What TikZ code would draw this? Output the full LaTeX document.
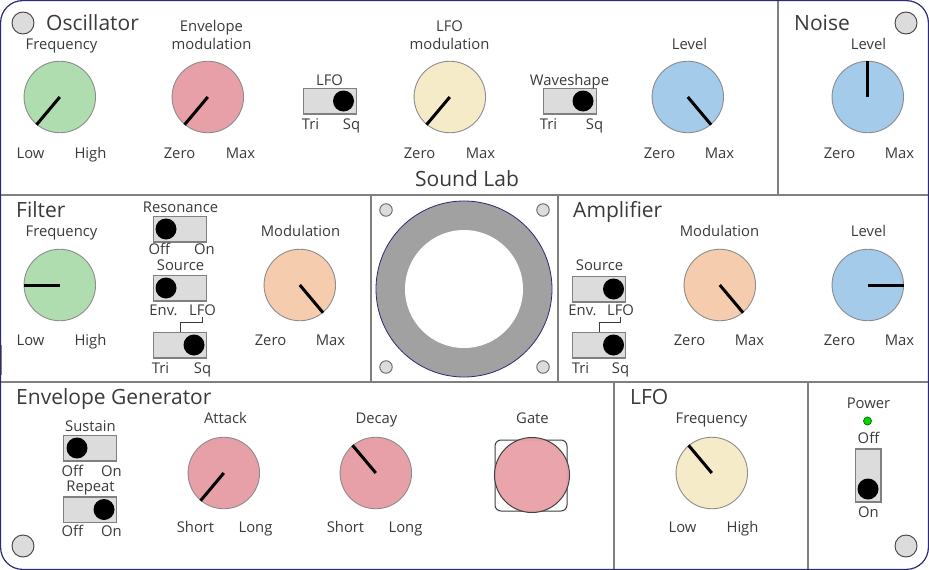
\documentclass[tikz,border=0pt]{standalone}
\usepackage{fontspec}
\setmainfont{Open Sans}
\definecolor{panel}{HTML}{808080}
\definecolor{navy}{HTML}{2A2A78}
\definecolor{ink}{HTML}{3A3A3A}
\definecolor{swfill}{HTML}{DCDCDC}
\definecolor{kgreen}{HTML}{B0DDB0}
\definecolor{kpink}{HTML}{E8A0A8}
\definecolor{kcream}{HTML}{F5EBC8}
\definecolor{kblue}{HTML}{A5CBEB}
\definecolor{kpeach}{HTML}{F5CDAE}
\tikzset{
  x=1pt,y=-1pt,
  lab/.style={inner sep=0pt,xshift=.5pt,yshift=-2pt,text=ink,font=\fontsize{14.8}{16}\selectfont,text height=10.6pt,text depth=3pt},
  ttl/.style={inner sep=0pt,yshift=-2pt,anchor=west,text=ink,font=\fontsize{21}{23}\selectfont,text height=15pt,text depth=4pt},
  knobc/.style={circle,draw=black!45,line width=.9pt,minimum size=71.5pt,inner sep=0pt},
  ptr/.style={line width=3pt,draw=black},
  swbox/.style={rectangle,draw=panel,line width=1.5pt,fill=swfill,inner sep=0pt},
  swdot/.style={circle,fill=black,minimum size=21pt,inner sep=0pt},
  screw/.style={circle,draw=black!75,fill=swfill,line width=.9pt,inner sep=0pt},
  divider/.style={draw=panel,line width=1.6pt},
}
\newcommand\knobat[5]{% name x y colour angle
  \node[knobc,fill=#4] (#1) at (#2,#3) {};
  \draw[ptr] (#1.center) -- (#1.#5);
}
\newcommand\hsw[4]{% name x y dotx -- box centre
  \node[swbox,minimum width=53pt,minimum height=25.5pt] (#1) at (#2,#3) {};
  \node[swdot] (#1d) at (#4,#3) {};
}
\newcommand\lbl[4]{\node[lab] (#1) at (#2,#3) {#4};}
\begin{document}
\begin{tikzpicture}
\useasboundingbox (0,0) rectangle (929,570);
\fill[white] (0,0) rectangle (929,570);
% panel dividers
\coordinate (hAl) at (0,195); \coordinate (hAr) at (929,195);
\coordinate (hBl) at (0,382); \coordinate (hBr) at (929,382);
\draw[divider] (hAl) -- (hAr);
\draw[divider] (hBl) -- (hBr);
\coordinate (v1a) at (778,0); \coordinate (v1b) at (778,195);
\coordinate (v2a) at (371,195); \coordinate (v2b) at (371,382);
\coordinate (v3a) at (558,195); \coordinate (v3b) at (558,382);
\coordinate (v4a) at (614,382); \coordinate (v4b) at (614,570);
\coordinate (v5a) at (808,382); \coordinate (v5b) at (808,570);
\draw[divider] (v1a) -- (v1b);
\draw[divider] (v2a) -- (v2b);
\draw[divider] (v3a) -- (v3b);
\draw[divider] (v4a) -- (v4b);
\draw[divider] (v5a) -- (v5b);
% border
\draw[navy,line width=1.2pt,rounded corners=22pt] (.6,.6) rectangle (928.4,569.4);
\draw[panel,line width=1pt] (1,345) -- (1,375);
% screws
\node[screw,minimum size=22pt] (s1) at (23,23) {};
\node[screw,minimum size=22pt] (s2) at (906,23) {};
\node[screw,minimum size=22pt] (s3) at (23,546) {};
\node[screw,minimum size=22pt] (s4) at (906,546) {};
% speaker
\node[circle,draw=navy,line width=.8pt,fill=black!37,minimum size=176pt,inner sep=0pt] (spk) at (464,289) {};
\node[circle,fill=white,minimum size=118pt,inner sep=0pt] (spki) at (464,289) {};
\node[screw,minimum size=12.5pt,draw=black!60] (m1) at (386,210) {};
\node[screw,minimum size=12.5pt,draw=black!60] (m2) at (543,210) {};
\node[screw,minimum size=12.5pt,draw=black!60] (m3) at (386,367) {};
\node[screw,minimum size=12.5pt,draw=black!60] (m4) at (543,367) {};
% knobs
\knobat{k1}{59.8}{97}{kgreen}{230}
\knobat{k2}{207.8}{97}{kpink}{230}
\knobat{k3}{449.8}{97}{kcream}{230}
\knobat{k4}{687.8}{97}{kblue}{-50}
\knobat{k5}{867.8}{97}{kblue}{90}
\knobat{k6}{59.8}{285}{kgreen}{180}
\knobat{k7}{299.8}{285}{kpeach}{-50}
\knobat{k8}{719.8}{285}{kpeach}{-50}
\knobat{k9}{867.8}{285}{kblue}{0}
\knobat{k10}{223.8}{473}{kpink}{230}
\knobat{k11}{375.8}{473}{kpink}{130}
\knobat{k12}{711.8}{473}{kcream}{130}
% gate
\node[rectangle,rounded corners=6pt,draw=black!75,line width=1pt,minimum width=72pt,minimum height=71pt,inner sep=0pt] (gsq) at (531,475.5) {};
\node[circle,draw=black!75,line width=1pt,fill=kpink,fill opacity=.95,minimum size=75pt,inner sep=0pt] (gate) at (532,475) {};
% switches
\hsw{w1}{330}{101}{343.5}
\hsw{w2}{570}{101}{583}
\hsw{w3}{180}{229}{166}
\hsw{w4}{180}{288}{166}
\hsw{w5}{180}{345}{194}
\hsw{w6}{599}{289}{613.5}
\hsw{w7}{599}{345}{613.5}
\hsw{w8}{90}{448}{77}
\hsw{w9}{90}{509.5}{104}
\node[swbox,minimum width=25.5pt,minimum height=53pt] (w10) at (868,475.5) {};
\node[swdot] (w10d) at (868,489) {};
\node[circle,draw=black!60!green,fill=green!85!black,line width=.7pt,minimum size=8pt,inner sep=0pt] (led) at (867.5,421) {};
% brackets
\coordinate (fle) at (202,317);
\coordinate (ale) at (620,317);
\draw[ink,line width=.9pt] (w5.north) -- ++(0,-9) -| (fle);
\draw[ink,line width=.9pt] (w7.north) -- ++(0,-9) -| (ale);
% titles
\node[ttl] (tOsc) at (46,23) {Oscillator};
\node[ttl] (tNoi) at (794,23) {Noise};
\node[ttl] (tFil) at (16,210) {Filter};
\node[ttl] (tAmp) at (573,210) {Amplifier};
\node[ttl] (tEnv) at (16,397) {Envelope Generator};
\node[ttl] (tLfo) at (630,397) {LFO};
\node[ttl,anchor=center] (tLab) at (467,179) {Sound Lab};
% labels, oscillator row
\lbl{a1}{61}{44}{Frequency}
\lbl{a2}{30}{153}{Low}
\lbl{a3}{90}{153}{High}
\lbl{a4}{211}{26}{Envelope}
\lbl{a5}{211}{44}{modulation}
\lbl{a6}{179}{153}{Zero}
\lbl{a7}{240}{153}{Max}
\lbl{a8}{329}{80}{LFO}
\lbl{a9}{310}{124}{Tri}
\lbl{a10}{351}{124}{Sq}
\lbl{a11}{449}{26}{LFO}
\lbl{a12}{449}{44}{modulation}
\lbl{a13}{419}{153}{Zero}
\lbl{a14}{480}{153}{Max}
\lbl{a15}{569}{80}{Waveshape}
\lbl{a16}{548}{124}{Tri}
\lbl{a17}{594}{124}{Sq}
\lbl{a18}{689}{44}{Level}
\lbl{a19}{659}{153}{Zero}
\lbl{a20}{719}{153}{Max}
\lbl{a21}{868}{44}{Level}
\lbl{a22}{839}{153}{Zero}
\lbl{a23}{899}{153}{Max}
% filter, amplifier row
\lbl{b1}{61}{231}{Frequency}
\lbl{b2}{30}{340}{Low}
\lbl{b3}{90}{340}{High}
\lbl{b4}{180}{207}{Resonance}
\lbl{b5}{159}{249}{Off}
\lbl{b6}{204}{249}{On}
\lbl{b7}{180}{265}{Source}
\lbl{b8}{163}{310}{Env.}
\lbl{b9}{202}{310}{LFO}
\lbl{b10}{160}{368}{Tri}
\lbl{b11}{202}{368}{Sq}
\lbl{b12}{300}{231}{Modulation}
\lbl{b13}{270}{340}{Zero}
\lbl{b14}{330}{340}{Max}
\lbl{b15}{599}{265}{Source}
\lbl{b16}{582}{310}{Env.}
\lbl{b17}{620}{310}{LFO}
\lbl{b18}{580}{368}{Tri}
\lbl{b19}{620}{368}{Sq}
\lbl{b20}{719}{231}{Modulation}
\lbl{b21}{689}{340}{Zero}
\lbl{b22}{749}{340}{Max}
\lbl{b23}{868}{231}{Level}
\lbl{b24}{839}{340}{Zero}
\lbl{b25}{899}{340}{Max}
% bottom row
\lbl{c1}{90}{426}{Sustain}
\lbl{c2}{72}{471}{Off}
\lbl{c3}{111}{471}{On}
\lbl{c4}{90}{486}{Repeat}
\lbl{c5}{72}{531}{Off}
\lbl{c6}{111}{531}{On}
\lbl{c7}{225}{418}{Attack}
\lbl{c8}{195}{527}{Short}
\lbl{c9}{255}{527}{Long}
\lbl{c10}{376}{418}{Decay}
\lbl{c11}{345}{527}{Short}
\lbl{c12}{405}{527}{Long}
\lbl{c13}{532}{418}{Gate}
\lbl{c14}{711}{418}{Frequency}
\lbl{c15}{682}{527}{Low}
\lbl{c16}{742}{527}{High}
\lbl{c17}{868}{403}{Power}
\lbl{c18}{868}{438}{Off}
\lbl{c19}{868}{512}{On}
\end{tikzpicture}
\end{document}
